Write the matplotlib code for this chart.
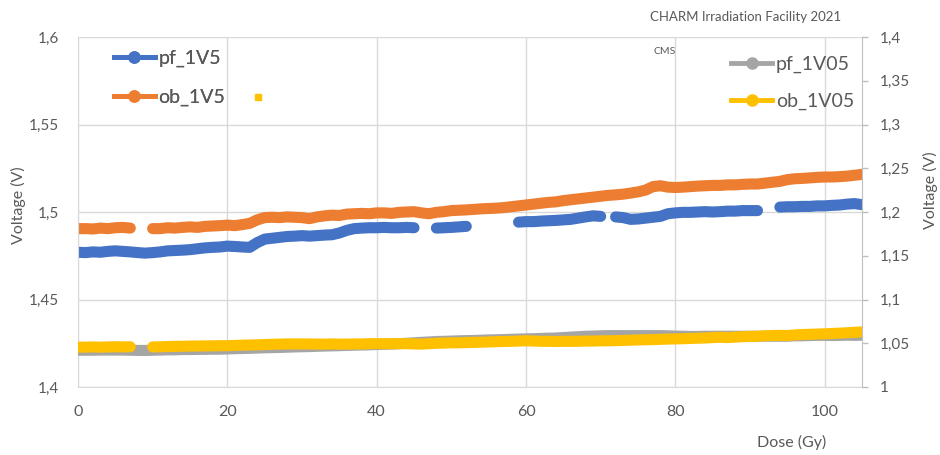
import numpy as np
import matplotlib
matplotlib.use("Agg")
import matplotlib.pyplot as plt
from matplotlib.ticker import FixedLocator, FuncFormatter
from matplotlib.lines import Line2D

plt.rcParams['font.family'] = ['Lato', 'DejaVu Sans']

nan = np.nan
dose = list(range(0, 106))  # Gy

pf_1V5 = [1.4770, 1.4768, 1.4772, 1.4770, 1.4775, 1.4778, 1.4775, 1.4772, 1.4768, 1.4765,
          1.4768, 1.4772, 1.4778, 1.4780, 1.4782, 1.4785, 1.4790, 1.4795, 1.4798, 1.4800,
          1.4805, 1.4803, 1.4800, 1.4798, 1.4825, 1.4845, 1.4850, 1.4855, 1.4860, 1.4862,
          1.4865, 1.4862, 1.4865, 1.4868, 1.4870, 1.4880, 1.4895, 1.4905, 1.4908, 1.4910,
          1.4910, 1.4912, 1.4910, 1.4910, 1.4912, 1.4910, nan, nan, 1.4908, 1.4910,
          1.4912, 1.4915, 1.4918, nan, nan, nan, nan, nan, nan, 1.4942,
          1.4945, 1.4945, 1.4948, 1.4950, 1.4952, 1.4955, 1.4958, 1.4965, 1.4972, 1.4978,
          1.4975, nan, 1.4972, 1.4968, 1.4958, 1.4960, 1.4965, 1.4970, 1.4975, 1.4990,
          1.4995, 1.4998, 1.4998, 1.5000, 1.5002, 1.5000, 1.5002, 1.5005, 1.5005, 1.5008,
          1.5008, 1.5008, nan, nan, 1.5028, 1.5030, 1.5030, 1.5032, 1.5032, 1.5035,
          1.5035, 1.5038, 1.5040, 1.5045, 1.5048, 1.5042]

ob_1V5 = [1.4905, 1.4905, 1.4903, 1.4908, 1.4905, 1.4910, 1.4912, 1.4908, nan, nan,
          1.4905, 1.4905, 1.4910, 1.4908, 1.4912, 1.4915, 1.4912, 1.4918, 1.4920, 1.4922,
          1.4925, 1.4922, 1.4928, 1.4935, 1.4955, 1.4968, 1.4970, 1.4968, 1.4972, 1.4970,
          1.4968, 1.4962, 1.4972, 1.4978, 1.4982, 1.4980, 1.4988, 1.4990, 1.4992, 1.4990,
          1.4995, 1.4995, 1.4992, 1.4998, 1.5000, 1.5002, 1.4995, 1.4990, 1.4998, 1.5002,
          1.5008, 1.5010, 1.5012, 1.5015, 1.5018, 1.5020, 1.5022, 1.5025, 1.5030, 1.5035,
          1.5040, 1.5045, 1.5050, 1.5055, 1.5058, 1.5065, 1.5070, 1.5075, 1.5080, 1.5085,
          1.5090, 1.5095, 1.5098, 1.5102, 1.5108, 1.5115, 1.5125, 1.5145, 1.5150, 1.5142,
          1.5140, 1.5142, 1.5145, 1.5148, 1.5150, 1.5152, 1.5152, 1.5155, 1.5155, 1.5158,
          1.5160, 1.5160, 1.5165, 1.5170, 1.5175, 1.5185, 1.5190, 1.5192, 1.5195, 1.5198,
          1.5200, 1.5200, 1.5202, 1.5205, 1.5210, 1.5215]

pf_1V05 = [1.0420, 1.0420, 1.0420, 1.0422, 1.0422, 1.0422, 1.0422, 1.0420, 1.0418, 1.0418,
           1.0420, 1.0422, 1.0425, 1.0425, 1.0428, 1.0428, 1.0430, 1.0430, 1.0432, 1.0432,
           1.0435, 1.0438, 1.0440, 1.0442, 1.0445, 1.0448, 1.0450, 1.0452, 1.0455, 1.0458,
           1.0460, 1.0462, 1.0465, 1.0468, 1.0470, 1.0472, 1.0475, 1.0478, 1.0480, 1.0482,
           1.0485, 1.0488, 1.0490, 1.0495, 1.0500, 1.0505, 1.0510, 1.0515, 1.0520, 1.0522,
           1.0525, 1.0528, 1.0530, 1.0532, 1.0535, 1.0538, 1.0540, 1.0542, 1.0545, 1.0548,
           1.0550, 1.0552, 1.0555, 1.0558, 1.0560, 1.0565, 1.0570, 1.0575, 1.0580, 1.0582,
           1.0585, 1.0587, 1.0587, 1.0587, 1.0587, 1.0587, 1.0587, 1.0587, 1.0587, 1.0585,
           1.0582, 1.0580, 1.0578, 1.0578, 1.0580, 1.0580, 1.0580, 1.0580, 1.0580, 1.0580,
           1.0580, 1.0580, 1.0580, 1.0580, 1.0580, 1.0580, 1.0585, 1.0585, 1.0588, 1.0590,
           1.0590, 1.0588, 1.0590, 1.0592, 1.0590, 1.0592]

ob_1V05 = [1.0455, 1.0455, 1.0458, 1.0455, 1.0458, 1.0460, 1.0458, 1.0460, nan, nan,
           1.0458, 1.0460, 1.0462, 1.0465, 1.0465, 1.0468, 1.0468, 1.0470, 1.0470, 1.0472,
           1.0472, 1.0475, 1.0478, 1.0480, 1.0482, 1.0485, 1.0488, 1.0490, 1.0492, 1.0492,
           1.0492, 1.0492, 1.0490, 1.0490, 1.0492, 1.0490, 1.0490, 1.0492, 1.0492, 1.0495,
           1.0495, 1.0495, 1.0495, 1.0495, 1.0495, 1.0492, 1.0490, 1.0495, 1.0500, 1.0502,
           1.0505, 1.0505, 1.0508, 1.0510, 1.0512, 1.0515, 1.0518, 1.0520, 1.0522, 1.0525,
           1.0528, 1.0525, 1.0522, 1.0522, 1.0520, 1.0522, 1.0522, 1.0522, 1.0525, 1.0525,
           1.0528, 1.0528, 1.0530, 1.0532, 1.0535, 1.0538, 1.0540, 1.0542, 1.0545, 1.0548,
           1.0550, 1.0552, 1.0555, 1.0558, 1.0560, 1.0565, 1.0568, 1.0565, 1.0570, 1.0575,
           1.0578, 1.0580, 1.0585, 1.0588, 1.0590, 1.0588, 1.0595, 1.0600, 1.0602, 1.0605,
           1.0608, 1.0612, 1.0615, 1.0620, 1.0625, 1.0630]

# isolated ob_1V05 outlier point
outlier_dose = [24.1]
outlier_val = [1.331]

left_ticks = [1.4, 1.45, 1.5, 1.55, 1.6]
right_ticks = [1.0, 1.05, 1.1, 1.15, 1.2, 1.25, 1.3, 1.35, 1.4]
x_ticks = [0, 20, 40, 60, 80, 100]

C_BLUE = '#4472C4'
C_ORANGE = '#ED7D31'
C_GRAY = '#A5A5A5'
C_YELLOW = '#FFC000'
TXT = '#595959'
GRID = '#D9D9D9'

W, H = 940, 455
fig = plt.figure(figsize=(W / 100, H / 100), dpi=100)
ax = fig.add_axes([78 / W, 1 - 387 / H, (862 - 78) / W, (387 - 37) / H])
ax2 = ax.twinx()

lw = 8
ax.plot(dose, pf_1V5, color=C_BLUE, lw=lw, solid_capstyle='round', label='pf_1V5')
ax.plot(dose, ob_1V5, color=C_ORANGE, lw=lw, solid_capstyle='round', label='ob_1V5')
ax2.plot(dose, pf_1V05, color=C_GRAY, lw=lw, solid_capstyle='round', label='pf_1V05')
ax2.plot(dose, ob_1V05, color=C_YELLOW, lw=lw, solid_capstyle='round', label='ob_1V05')
ax2.plot(outlier_dose, outlier_val, ls='none', marker='s', ms=4.5, color=C_YELLOW)

ax.set_xlim(0, 105)
ax.set_ylim(1.4, 1.6)
ax2.set_ylim(1.0, 1.4)

def comma(v, pos=None):
    s = ('%.2f' % v).rstrip('0').rstrip('.')
    return s.replace('.', ',')

ax.xaxis.set_major_locator(FixedLocator(x_ticks))
ax.yaxis.set_major_locator(FixedLocator(left_ticks))
ax.yaxis.set_major_formatter(FuncFormatter(comma))
ax2.yaxis.set_major_locator(FixedLocator(right_ticks))
ax2.yaxis.set_major_formatter(FuncFormatter(comma))

ax.grid(True, color=GRID, lw=1)
ax.set_axisbelow(True)
for a in (ax, ax2):
    for s in a.spines.values():
        s.set_visible(False)
ax.spines['left'].set_visible(True)
ax.spines['left'].set_color(GRID)
ax.spines['bottom'].set_visible(True)
ax.spines['bottom'].set_color(GRID)
ax2.spines['right'].set_visible(True)
ax2.spines['right'].set_color('#BFBFBF')

ax.tick_params(axis='y', length=0, pad=14, labelsize=11, labelcolor=TXT)
ax.tick_params(axis='x', length=0, pad=13, labelsize=11.5, labelcolor=TXT)
ax2.tick_params(axis='y', length=4, width=1, color='#BFBFBF', pad=9, labelsize=11, labelcolor=TXT)

fig.text(18 / W, 1 - 205 / H, 'Voltage (V)', rotation=90, ha='center', va='center',
         fontsize=11.5, color=TXT)
fig.text(930 / W, 1 - 190 / H, 'Voltage (V)', rotation=90, ha='center', va='center',
         fontsize=11.5, color=TXT)
fig.text(792 / W, 1 - 442 / H, 'Dose (Gy)', ha='center', va='center', fontsize=11.5, color=TXT)
fig.text(746 / W, 1 - 17 / H, 'CHARM Irradiation Facility 2021', ha='center', va='center',
         fontsize=9.5, color=TXT)
fig.text(665 / W, 1 - 52 / H, 'CMS', ha='center', va='center', fontsize=7.5, color=TXT)

def handles(colors, labels):
    return [Line2D([0], [0], color=c, lw=3.5, marker='o', ms=8, label=l)
            for c, l in zip(colors, labels)]

leg1 = ax.legend(handles=handles([C_BLUE, C_ORANGE], ['pf_1V5', 'ob_1V5']),
                 loc='upper left', bbox_to_anchor=(110 / W, 1 - 46 / H),
                 bbox_transform=fig.transFigure, frameon=False, fontsize=14,
                 handlelength=2.1, handletextpad=0.2, labelspacing=1.1,
                 labelcolor=TXT, borderpad=0.2, borderaxespad=0)
ax.add_artist(leg1)
leg2 = ax2.legend(handles=handles([C_GRAY, C_YELLOW], ['pf_1V05', 'ob_1V05']),
                  loc='upper right', bbox_to_anchor=(858 / W, 1 - 52 / H),
                  bbox_transform=fig.transFigure, frameon=False, fontsize=14,
                  handlelength=2.1, handletextpad=0.2, labelspacing=1.0,
                  labelcolor=TXT, borderpad=0.2, borderaxespad=0)

fig.savefig('out.png', dpi=100)
